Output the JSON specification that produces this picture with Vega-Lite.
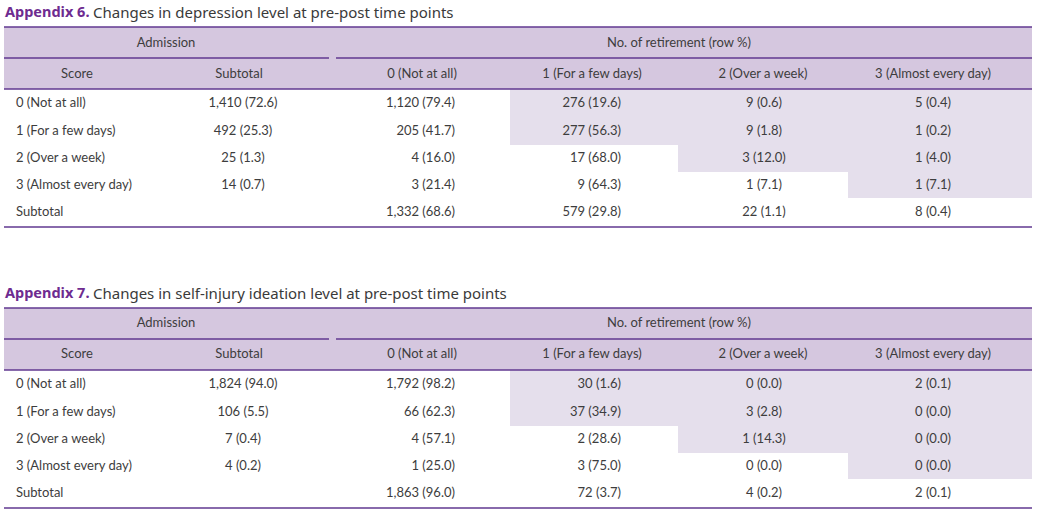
{
  "$schema": "https://vega.github.io/schema/vega-lite/v6.json",
  "width": 1038,
  "height": 514,
  "padding": 0,
  "autosize": {"type": "none"},
  "background": "white",
  "config": {"view": {"stroke": null}},
  "datasets": {
    "titles": [
      {"row": -1, "part": 0, "label": "Appendix 6."},
      {"row": -1, "part": 1, "label": "Changes in depression level at pre-post time points"},
      {"row": 9, "part": 0, "label": "Appendix 7."},
      {"row": 9, "part": 1, "label": "Changes in self-injury ideation level at pre-post time points"}
    ],
    "bands": [
      {"kind": "header", "rowFrom": 0, "rowTo": 2, "colFrom": 0, "colTo": 6},
      {"kind": "highlight", "rowFrom": 2, "rowTo": 4, "colFrom": 3, "colTo": 6},
      {"kind": "highlight", "rowFrom": 4, "rowTo": 5, "colFrom": 4, "colTo": 6},
      {"kind": "highlight", "rowFrom": 5, "rowTo": 6, "colFrom": 5, "colTo": 6},
      {"kind": "header", "rowFrom": 10, "rowTo": 12, "colFrom": 0, "colTo": 6},
      {"kind": "highlight", "rowFrom": 12, "rowTo": 14, "colFrom": 3, "colTo": 6},
      {"kind": "highlight", "rowFrom": 14, "rowTo": 15, "colFrom": 4, "colTo": 6},
      {"kind": "highlight", "rowFrom": 15, "rowTo": 16, "colFrom": 5, "colTo": 6}
    ],
    "lines": [
      {"line": 0, "seg": "full", "colFrom": 0, "colTo": 6},
      {"line": 1, "seg": "left", "colFrom": 0, "colTo": 2},
      {"line": 1, "seg": "right", "colFrom": 2, "colTo": 6},
      {"line": 2, "seg": "full", "colFrom": 0, "colTo": 6},
      {"line": 7, "seg": "full", "colFrom": 0, "colTo": 6},
      {"line": 10, "seg": "full", "colFrom": 0, "colTo": 6},
      {"line": 11, "seg": "left", "colFrom": 0, "colTo": 2},
      {"line": 11, "seg": "right", "colFrom": 2, "colTo": 6},
      {"line": 12, "seg": "full", "colFrom": 0, "colTo": 6},
      {"line": 17, "seg": "full", "colFrom": 0, "colTo": 6}
    ],
    "spans": [
      {"row": 0, "span": 0, "label": "Admission"},
      {"row": 0, "span": 1, "label": "No. of retirement (row %)"},
      {"row": 10, "span": 0, "label": "Admission"},
      {"row": 10, "span": 1, "label": "No. of retirement (row %)"}
    ],
    "heads": [
      {"row": 1, "col": 0, "label": "Score"},
      {"row": 1, "col": 1, "label": "Subtotal"},
      {"row": 1, "col": 2, "label": "0 (Not at all)"},
      {"row": 1, "col": 3, "label": "1 (For a few days)"},
      {"row": 1, "col": 4, "label": "2 (Over a week)"},
      {"row": 1, "col": 5, "label": "3 (Almost every day)"},
      {"row": 11, "col": 0, "label": "Score"},
      {"row": 11, "col": 1, "label": "Subtotal"},
      {"row": 11, "col": 2, "label": "0 (Not at all)"},
      {"row": 11, "col": 3, "label": "1 (For a few days)"},
      {"row": 11, "col": 4, "label": "2 (Over a week)"},
      {"row": 11, "col": 5, "label": "3 (Almost every day)"}
    ],
    "cells": [
      {"row": 2, "col": 0, "label": "0 (Not at all)"},
      {"row": 2, "col": 1, "label": "1,410 (72.6)"},
      {"row": 2, "col": 2, "label": "1,120 (79.4)"},
      {"row": 2, "col": 3, "label": "276 (19.6)"},
      {"row": 2, "col": 4, "label": "9 (0.6)"},
      {"row": 2, "col": 5, "label": "5 (0.4)"},
      {"row": 3, "col": 0, "label": "1 (For a few days)"},
      {"row": 3, "col": 1, "label": "492 (25.3)"},
      {"row": 3, "col": 2, "label": "205 (41.7)"},
      {"row": 3, "col": 3, "label": "277 (56.3)"},
      {"row": 3, "col": 4, "label": "9 (1.8)"},
      {"row": 3, "col": 5, "label": "1 (0.2)"},
      {"row": 4, "col": 0, "label": "2 (Over a week)"},
      {"row": 4, "col": 1, "label": "25 (1.3)"},
      {"row": 4, "col": 2, "label": "4 (16.0)"},
      {"row": 4, "col": 3, "label": "17 (68.0)"},
      {"row": 4, "col": 4, "label": "3 (12.0)"},
      {"row": 4, "col": 5, "label": "1 (4.0)"},
      {"row": 5, "col": 0, "label": "3 (Almost every day)"},
      {"row": 5, "col": 1, "label": "14 (0.7)"},
      {"row": 5, "col": 2, "label": "3 (21.4)"},
      {"row": 5, "col": 3, "label": "9 (64.3)"},
      {"row": 5, "col": 4, "label": "1 (7.1)"},
      {"row": 5, "col": 5, "label": "1 (7.1)"},
      {"row": 6, "col": 0, "label": "Subtotal"},
      {"row": 6, "col": 2, "label": "1,332 (68.6)"},
      {"row": 6, "col": 3, "label": "579 (29.8)"},
      {"row": 6, "col": 4, "label": "22 (1.1)"},
      {"row": 6, "col": 5, "label": "8 (0.4)"},
      {"row": 12, "col": 0, "label": "0 (Not at all)"},
      {"row": 12, "col": 1, "label": "1,824 (94.0)"},
      {"row": 12, "col": 2, "label": "1,792 (98.2)"},
      {"row": 12, "col": 3, "label": "30 (1.6)"},
      {"row": 12, "col": 4, "label": "0 (0.0)"},
      {"row": 12, "col": 5, "label": "2 (0.1)"},
      {"row": 13, "col": 0, "label": "1 (For a few days)"},
      {"row": 13, "col": 1, "label": "106 (5.5)"},
      {"row": 13, "col": 2, "label": "66 (62.3)"},
      {"row": 13, "col": 3, "label": "37 (34.9)"},
      {"row": 13, "col": 4, "label": "3 (2.8)"},
      {"row": 13, "col": 5, "label": "0 (0.0)"},
      {"row": 14, "col": 0, "label": "2 (Over a week)"},
      {"row": 14, "col": 1, "label": "7 (0.4)"},
      {"row": 14, "col": 2, "label": "4 (57.1)"},
      {"row": 14, "col": 3, "label": "2 (28.6)"},
      {"row": 14, "col": 4, "label": "1 (14.3)"},
      {"row": 14, "col": 5, "label": "0 (0.0)"},
      {"row": 15, "col": 0, "label": "3 (Almost every day)"},
      {"row": 15, "col": 1, "label": "4 (0.2)"},
      {"row": 15, "col": 2, "label": "1 (25.0)"},
      {"row": 15, "col": 3, "label": "3 (75.0)"},
      {"row": 15, "col": 4, "label": "0 (0.0)"},
      {"row": 15, "col": 5, "label": "0 (0.0)"},
      {"row": 16, "col": 0, "label": "Subtotal"},
      {"row": 16, "col": 2, "label": "1,863 (96.0)"},
      {"row": 16, "col": 3, "label": "72 (3.7)"},
      {"row": 16, "col": 4, "label": "4 (0.2)"},
      {"row": 16, "col": 5, "label": "2 (0.1)"}
    ]
  },
  "layer": [
    {
      "data": {"name": "bands"},
      "mark": {"type": "rect"},
      "encoding": {
        "x": {"field": "colFrom", "type": "quantitative", "axis": null, "scale": {"type": "linear", "domain": [0, 1, 2, 3, 4, 5, 6], "range": [4, 150, 332, 510, 678, 848, 1032], "zero": false, "nice": false}},
        "x2": {"field": "colTo"},
        "y": {"field": "rowFrom", "type": "quantitative", "axis": null, "scale": {"type": "linear", "domain": [0, 1, 2, 3, 4, 5, 6, 7, 10, 11, 12, 13, 14, 15, 16, 17], "range": [27, 58, 89, 117, 145, 172, 198, 227, 308, 339, 370, 398, 426, 453, 479, 508], "zero": false, "nice": false}},
        "y2": {"field": "rowTo"},
        "color": {"field": "kind", "type": "nominal", "legend": null, "scale": {"domain": ["header", "highlight"], "range": ["#D5C7DF", "#E5DFEC"]}}
      }
    },
    {
      "data": {"name": "lines"},
      "transform": [{"filter": "datum.seg == 'full'"}],
      "mark": {"type": "rule", "color": "#613990", "strokeWidth": 1.5},
      "encoding": {
        "x": {"field": "colFrom", "type": "quantitative", "axis": null, "scale": {"type": "linear", "domain": [0, 1, 2, 3, 4, 5, 6], "range": [4, 150, 332, 510, 678, 848, 1032], "zero": false, "nice": false}},
        "x2": {"field": "colTo"},
        "y": {"field": "line", "type": "quantitative", "axis": null, "scale": {"type": "linear", "domain": [0, 1, 2, 3, 4, 5, 6, 7, 10, 11, 12, 13, 14, 15, 16, 17], "range": [27, 58, 89, 117, 145, 172, 198, 227, 308, 339, 370, 398, 426, 453, 479, 508], "zero": false, "nice": false}}
      }
    },
    {
      "data": {"name": "lines"},
      "transform": [{"filter": "datum.seg == 'left'"}],
      "mark": {"type": "rule", "color": "#613990", "strokeWidth": 1.5, "x2Offset": -3},
      "encoding": {
        "x": {"field": "colFrom", "type": "quantitative", "axis": null, "scale": {"type": "linear", "domain": [0, 1, 2, 3, 4, 5, 6], "range": [4, 150, 332, 510, 678, 848, 1032], "zero": false, "nice": false}},
        "x2": {"field": "colTo"},
        "y": {"field": "line", "type": "quantitative", "axis": null, "scale": {"type": "linear", "domain": [0, 1, 2, 3, 4, 5, 6, 7, 10, 11, 12, 13, 14, 15, 16, 17], "range": [27, 58, 89, 117, 145, 172, 198, 227, 308, 339, 370, 398, 426, 453, 479, 508], "zero": false, "nice": false}}
      }
    },
    {
      "data": {"name": "lines"},
      "transform": [{"filter": "datum.seg == 'right'"}],
      "mark": {"type": "rule", "color": "#613990", "strokeWidth": 1.5, "xOffset": 4},
      "encoding": {
        "x": {"field": "colFrom", "type": "quantitative", "axis": null, "scale": {"type": "linear", "domain": [0, 1, 2, 3, 4, 5, 6], "range": [4, 150, 332, 510, 678, 848, 1032], "zero": false, "nice": false}},
        "x2": {"field": "colTo"},
        "y": {"field": "line", "type": "quantitative", "axis": null, "scale": {"type": "linear", "domain": [0, 1, 2, 3, 4, 5, 6, 7, 10, 11, 12, 13, 14, 15, 16, 17], "range": [27, 58, 89, 117, 145, 172, 198, 227, 308, 339, 370, 398, 426, 453, 479, 508], "zero": false, "nice": false}}
      }
    },
    {
      "data": {"name": "titles"},
      "transform": [{"filter": "datum.part == 0"}],
      "mark": {"type": "text", "align": "left", "baseline": "middle", "font": "Noto Sans", "fontSize": 14.5, "fontWeight": "bold", "color": "#6E2B90"},
      "encoding": {
        "x": {"field": "part", "type": "quantitative", "axis": null, "scale": {"type": "linear", "domain": [0, 1], "range": [5, 93], "zero": false, "nice": false}},
        "y": {"field": "row", "type": "quantitative", "axis": null, "scale": {"type": "linear", "domain": [-1, 0, 1, 2, 3, 4, 5, 6, 9, 10, 11, 12, 13, 14, 15, 16], "range": [13, 43, 74, 103, 131, 158, 185, 212, 294, 323, 354, 384, 412, 439, 466, 493], "zero": false, "nice": false}},
        "text": {"field": "label"}
      }
    },
    {
      "data": {"name": "titles"},
      "transform": [{"filter": "datum.part == 1"}],
      "mark": {"type": "text", "align": "left", "baseline": "middle", "font": "Noto Sans", "fontSize": 15, "color": "#3a3a3a"},
      "encoding": {
        "x": {"field": "part", "type": "quantitative", "axis": null, "scale": {"type": "linear", "domain": [0, 1], "range": [5, 93], "zero": false, "nice": false}},
        "y": {"field": "row", "type": "quantitative", "axis": null, "scale": {"type": "linear", "domain": [-1, 0, 1, 2, 3, 4, 5, 6, 9, 10, 11, 12, 13, 14, 15, 16], "range": [13, 43, 74, 103, 131, 158, 185, 212, 294, 323, 354, 384, 412, 439, 466, 493], "zero": false, "nice": false}},
        "text": {"field": "label"}
      }
    },
    {
      "data": {"name": "spans"},
      "mark": {"type": "text", "align": "center", "baseline": "middle", "font": "Lato", "fontSize": 13, "color": "#3d3d3d"},
      "encoding": {
        "x": {"field": "span", "type": "quantitative", "axis": null, "scale": {"type": "linear", "domain": [0, 1], "range": [166, 679], "zero": false, "nice": false}},
        "y": {"field": "row", "type": "quantitative", "axis": null, "scale": {"type": "linear", "domain": [-1, 0, 1, 2, 3, 4, 5, 6, 9, 10, 11, 12, 13, 14, 15, 16], "range": [13, 43, 74, 103, 131, 158, 185, 212, 294, 323, 354, 384, 412, 439, 466, 493], "zero": false, "nice": false}},
        "text": {"field": "label"}
      }
    },
    {
      "data": {"name": "heads"},
      "mark": {"type": "text", "align": "center", "baseline": "middle", "font": "Lato", "fontSize": 13, "color": "#3d3d3d"},
      "encoding": {
        "x": {"field": "col", "type": "quantitative", "axis": null, "scale": {"type": "linear", "domain": [0, 1, 2, 3, 4, 5], "range": [77, 239, 422, 592, 763, 933], "zero": false, "nice": false}},
        "y": {"field": "row", "type": "quantitative", "axis": null, "scale": {"type": "linear", "domain": [-1, 0, 1, 2, 3, 4, 5, 6, 9, 10, 11, 12, 13, 14, 15, 16], "range": [13, 43, 74, 103, 131, 158, 185, 212, 294, 323, 354, 384, 412, 439, 466, 493], "zero": false, "nice": false}},
        "text": {"field": "label"}
      }
    },
    {
      "data": {"name": "cells"},
      "transform": [{"filter": "datum.col == 0"}],
      "mark": {"type": "text", "align": "left", "baseline": "middle", "font": "Lato", "fontSize": 13, "color": "#3d3d3d"},
      "encoding": {
        "x": {"field": "col", "type": "quantitative", "axis": null, "scale": {"type": "linear", "domain": [0, 1, 2, 3, 4, 5], "range": [16, 243, 455, 621, 764, 933], "zero": false, "nice": false}},
        "y": {"field": "row", "type": "quantitative", "axis": null, "scale": {"type": "linear", "domain": [-1, 0, 1, 2, 3, 4, 5, 6, 9, 10, 11, 12, 13, 14, 15, 16], "range": [13, 43, 74, 103, 131, 158, 185, 212, 294, 323, 354, 384, 412, 439, 466, 493], "zero": false, "nice": false}},
        "text": {"field": "label"}
      }
    },
    {
      "data": {"name": "cells"},
      "transform": [{"filter": "datum.col == 1 || datum.col == 4 || datum.col == 5"}],
      "mark": {"type": "text", "align": "center", "baseline": "middle", "font": "Lato", "fontSize": 13, "color": "#3d3d3d"},
      "encoding": {
        "x": {"field": "col", "type": "quantitative", "axis": null, "scale": {"type": "linear", "domain": [0, 1, 2, 3, 4, 5], "range": [16, 243, 455, 621, 764, 933], "zero": false, "nice": false}},
        "y": {"field": "row", "type": "quantitative", "axis": null, "scale": {"type": "linear", "domain": [-1, 0, 1, 2, 3, 4, 5, 6, 9, 10, 11, 12, 13, 14, 15, 16], "range": [13, 43, 74, 103, 131, 158, 185, 212, 294, 323, 354, 384, 412, 439, 466, 493], "zero": false, "nice": false}},
        "text": {"field": "label"}
      }
    },
    {
      "data": {"name": "cells"},
      "transform": [{"filter": "datum.col == 2 || datum.col == 3"}],
      "mark": {"type": "text", "align": "right", "baseline": "middle", "font": "Lato", "fontSize": 13, "color": "#3d3d3d"},
      "encoding": {
        "x": {"field": "col", "type": "quantitative", "axis": null, "scale": {"type": "linear", "domain": [0, 1, 2, 3, 4, 5], "range": [16, 243, 455, 621, 764, 933], "zero": false, "nice": false}},
        "y": {"field": "row", "type": "quantitative", "axis": null, "scale": {"type": "linear", "domain": [-1, 0, 1, 2, 3, 4, 5, 6, 9, 10, 11, 12, 13, 14, 15, 16], "range": [13, 43, 74, 103, 131, 158, 185, 212, 294, 323, 354, 384, 412, 439, 466, 493], "zero": false, "nice": false}},
        "text": {"field": "label"}
      }
    }
  ],
  "resolve": {"scale": {"x": "independent", "y": "independent", "color": "independent"}}
}
